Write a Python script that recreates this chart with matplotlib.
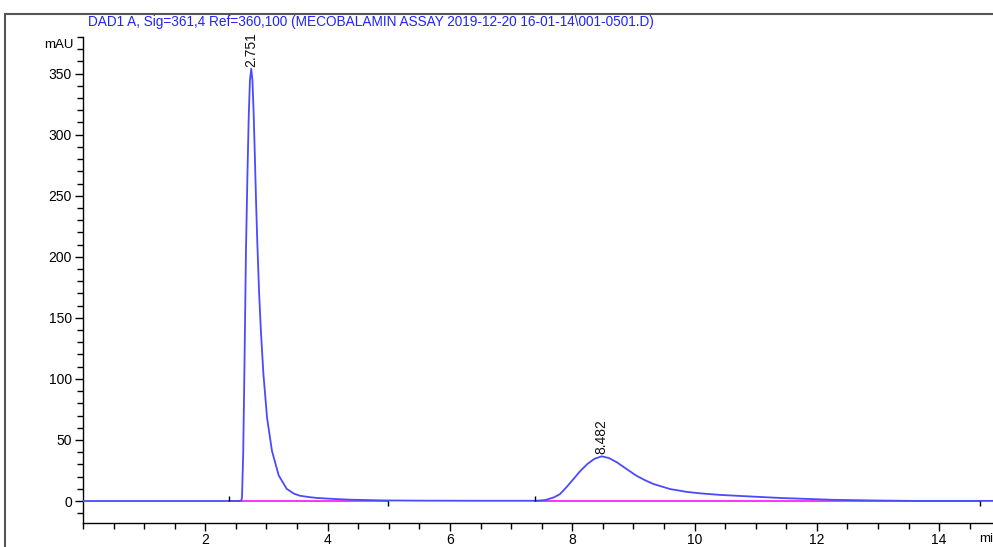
import matplotlib
matplotlib.use('Agg')
import matplotlib.pyplot as plt
from matplotlib.patches import Rectangle
from matplotlib.ticker import MultipleLocator

plt.rcParams['font.family'] = ['Liberation Sans', 'DejaVu Sans']

# signal (min, mAU)
time_min = [0.0, 2.55, 2.59, 2.60, 2.62, 2.64, 2.665, 2.69, 2.71, 2.73, 2.751,
            2.77, 2.79, 2.806, 2.83, 2.85, 2.88, 2.91, 2.95, 3.01, 3.09, 3.2,
            3.33, 3.45, 3.55, 3.7, 3.83, 4.1, 4.37, 4.9, 5.5, 6.5, 7.4, 7.56,
            7.7, 7.8, 7.9, 8.02, 8.13, 8.24, 8.36, 8.48, 8.6, 8.73, 8.88, 9.05,
            9.2, 9.33, 9.6, 9.87, 10.09, 10.42, 11.0, 11.45, 12.26, 13.0, 13.6,
            14.88]
signal_mau = [0.0, 0.0, 0.5, 3, 40, 110, 206, 270, 315, 345, 354,
              345, 318, 290, 245, 212, 170, 138, 104, 68, 41, 21,
              10, 6, 4.3, 3.2, 2.5, 1.7, 1.1, 0.5, 0.3, 0.2, 0.2, 0.8,
              3, 5.7, 11, 18, 24.5, 30, 34.5, 36.6, 35.2, 31.7, 26.5, 20.7,
              16.8, 13.9, 9.8, 7.5, 6.3, 5.0, 3.5, 2.4, 1.0, 0.4, 0.1,
              0.1]

# integration baselines (start, end)
baselines = [(2.38, 4.99), (7.39, 14.67)]

peak_rt = [2.751, 8.482]
peak_height = [354, 36.6]
peak_labels = ['2.751', '8.482']

title = 'DAD1 A, Sig=361,4 Ref=360,100 (MECOBALAMIN ASSAY 2019-12-20 16-01-14\\001-0501.D)'

fig = plt.figure(figsize=(9.93, 5.47), dpi=100)
ax = fig.add_axes([83 / 993, 24 / 547, 1 - 83 / 993, (523 - 37) / 547])

ax.plot(time_min, signal_mau, color='#4a4aff', lw=1.3, zorder=3)
for b0, b1 in baselines:
    ax.plot([b0, b1], [0, 0], color='#ff22ff', lw=1.3, zorder=2)
    ax.vlines(b0, 0, 4, color='black', lw=1, zorder=4)
    ax.vlines(b1, -4, 0, color='black', lw=1, zorder=4)

for rt, h, lab in zip(peak_rt, peak_height, peak_labels):
    ax.text(rt, h + 1.5, lab, rotation=90, ha='center', va='bottom',
            fontsize=10, color='#111111')

ax.set_xlim(0.0, 14.88)
ax.set_ylim(-18, 380)
ax.xaxis.set_minor_locator(MultipleLocator(0.5))
ax.yaxis.set_minor_locator(MultipleLocator(10))
ax.set_xticks([2, 4, 6, 8, 10, 12, 14])
ax.set_yticks([0, 50, 100, 150, 200, 250, 300, 350])
ax.tick_params(axis='both', which='major', length=6, width=1, labelsize=10,
               direction='out')
ax.tick_params(axis='x', which='major', pad=1)
ax.tick_params(axis='y', which='major', pad=2)
ax.tick_params(axis='both', which='minor', length=4, width=1, direction='out')
for s in ['top', 'right']:
    ax.spines[s].set_visible(False)
for s in ['left', 'bottom']:
    ax.spines[s].set_linewidth(1)

fig.text(44 / 993, (547 - 45) / 547, 'mAU', fontsize=9.5, va='center', ha='left')
fig.text(979 / 993, (547 - 539) / 547, 'min', fontsize=9.5, va='center', ha='left')
fig.text(88 / 993, (547 - 22) / 547, title, fontsize=9.8, color='#2222ff',
         va='center', ha='left')

fig.add_artist(Rectangle((5 / 993, -0.1), 1.2, (547 - 14) / 547 + 0.1,
                         transform=fig.transFigure, fill=False,
                         edgecolor='#555555', lw=1.5))

fig.savefig('out.png', dpi=100)
